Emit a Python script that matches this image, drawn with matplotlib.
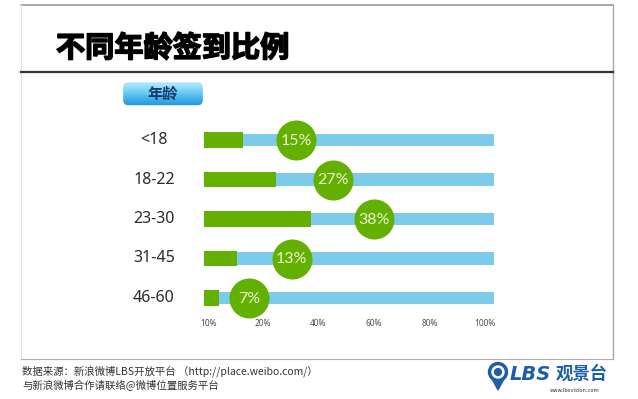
import matplotlib
matplotlib.use('Agg')
import matplotlib.pyplot as plt
import matplotlib.patheffects as pe
import numpy as np
from matplotlib.patches import FancyBboxPatch, Circle, Polygon
from matplotlib.lines import Line2D
from matplotlib.colors import LinearSegmentedColormap

plt.rcParams['font.family'] = ['Noto Sans CJK SC', 'DejaVu Sans']

# data
categories = ['<18', '18-22', '23-30', '31-45', '46-60']
pct = [15, 27, 38, 13, 7]
bar_len = [14, 26, 38.5, 12, 5.5]      # green bars as drawn in the picture
bubble_x = [32, 45.2, 60, 30.4, 15]    # where the bubbles sit
tick_pos = [0.5, 20, 40, 60, 80, 100]
tick_labels = ['10%', '20%', '40%', '60%', '80%', '100%']
bar_start = -1.3
track_end = 103.3

GREEN = '#63b000'
BLUE = '#7ccbea'

W, H = 638, 399
fig = plt.figure(figsize=(W / 100, H / 100), dpi=100)
fig.patch.set_facecolor('white')


def px_axes(x0, y0, x1, y1):
    return fig.add_axes([x0 / W, 1 - y1 / H, (x1 - x0) / W, (y1 - y0) / H])


def fline(xs, ys, **kw):
    fig.add_artist(Line2D([x / W for x in xs], [1 - y / H for y in ys],
                          transform=fig.transFigure, **kw))


# frame
fline([21, 613], [4.5, 4.5], color='#9a9a9a', lw=1.2)
fline([21, 21], [4.5, 359], color='#e2e2e2', lw=0.8)
fline([613, 613], [4.5, 359], color='#a8a8a8', lw=1.0)
fline([21, 613], [359, 359], color='#b0b0b0', lw=0.8)
fline([21, 613], [72, 72], color='#333333', lw=1.6)

fig.text(56 / W, 1 - 48 / H, '不同年龄签到比例', fontsize=21, fontweight='black',
         color='black', ha='left', va='center',
         path_effects=[pe.withStroke(linewidth=1.1, foreground='black')])

# main chart
ax = px_axes(120, 110, 520, 315)
n = len(categories)
y = np.arange(n)
ax.barh(y, track_end - bar_start, left=bar_start, height=0.32, color=BLUE, zorder=1)
ax.barh(y, bar_len, left=bar_start, height=0.405, color=GREEN, zorder=2)
ax.scatter(bubble_x, y, s=830, color=GREEN, zorder=3, clip_on=False, linewidths=0)
for i in range(n):
    ax.text(bubble_x[i], y[i] + 0.02, f'{pct[i]}%', ha='center', va='center',
            fontsize=11.5, color='#eaf4d0', family=['Lato', 'DejaVu Sans'], zorder=4)
    ax.text(-19.3, y[i], categories[i], ha='center', va='center', fontsize=11.5,
            color='#2a2a2a', family=['Noto Sans', 'DejaVu Sans'])

ax.set_xlim((120 - 207.5) / 2.775, (520 - 207.5) / 2.775)
ax.set_ylim((315 - 140) / 39.5, (110 - 140) / 39.5)
ax.set_xticks(tick_pos, tick_labels)
ax.set_yticks([])
ax.tick_params(axis='x', length=0, pad=3, labelsize=6, labelcolor='#505050')
for t in ax.get_xticklabels():
    t.set_fontweight('bold')
    t.set_family(['Noto Sans', 'DejaVu Sans'])
for s in ax.spines.values():
    s.set_visible(False)
ax.patch.set_alpha(0)

# "年龄" header box
bx = px_axes(122.7, 81.7, 203.3, 105.7)
bw, bh = 80.6, 24
cmap = LinearSegmentedColormap.from_list('hdr', ['#2297dc', '#45b4ec', '#7dd4f7', '#b8ecfc'])
grad = np.linspace(0, 1, 100).reshape(-1, 1)
im = bx.imshow(grad, aspect='auto', extent=[0, bw, 0, bh], cmap=cmap, origin='lower')
clip = FancyBboxPatch((0.5, 0.5), bw - 1, bh - 1, boxstyle='round,pad=0,rounding_size=5',
                      facecolor='none', edgecolor='none')
bx.add_patch(clip)
im.set_clip_path(clip)
bx.set_xlim(0, bw)
bx.set_ylim(0, bh)
bx.axis('off')
bx.text(bw / 2, bh / 2, '年龄', ha='center', va='center', fontsize=11,
        fontweight='bold', color='#173a6c')

# footer
fig.text(22 / W, 1 - 371 / H, '数据来源：新浪微博LBS开放平台 （http://place.weibo.com/）',
         fontsize=7.5, color='#333333', ha='left', va='center')
fig.text(22 / W, 1 - 386 / H, '与新浪微博合作请联络@微博位置服务平台',
         fontsize=7.5, color='#333333', ha='left', va='center')

# logo
lg = px_axes(485, 356, 625, 399)
lg.set_xlim(485, 625)
lg.set_ylim(399, 356)
lg.axis('off')
LOGO = '#1d5ea8'
lg.add_patch(Polygon([[490.5, 376], [505.5, 376], [498, 390]], closed=True, color=LOGO))
lg.add_patch(Circle((498, 372), 9.5, color=LOGO))
lg.add_patch(Circle((498, 372), 6, color='white'))
lg.add_patch(Circle((498, 372), 3.4, color=LOGO))
lg.text(510, 374, 'LBS', fontsize=14, fontweight='heavy', style='italic', color=LOGO,
        ha='left', va='center', family=['DejaVu Sans'])
lg.text(556, 374, '观景台', fontsize=12.5, fontweight='bold', color=LOGO,
        ha='left', va='center')
lg.text(600, 391, 'www.lbsvision.com', fontsize=3.8, color='#333333',
        ha='right', va='center', family=['DejaVu Sans'])

fig.savefig('out.png', dpi=100)
